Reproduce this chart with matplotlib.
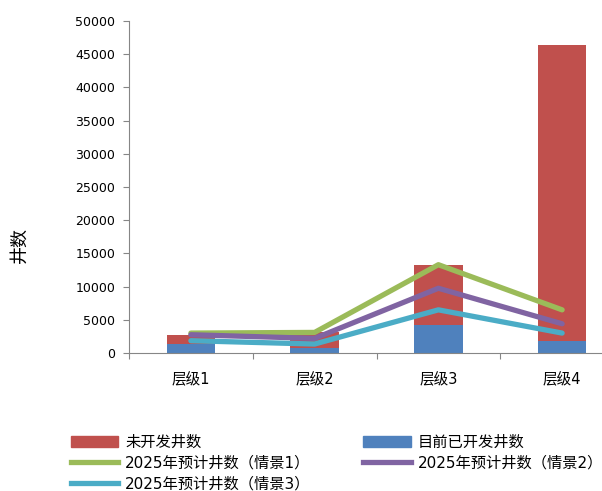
import numpy as np
import matplotlib
matplotlib.use("Agg")
from matplotlib import pyplot as plt
from matplotlib.patches import Patch
from matplotlib.lines import Line2D

plt.rcParams["font.family"] = ["DejaVu Sans", "Noto Sans CJK SC"]

levels = ["层级1", "层级2", "层级3", "层级4"]
developed = [1300, 800, 4200, 1850]          # 目前已开发井数
undeveloped = [1400, 2400, 9050, 44550]      # 未开发井数 (stacked on top)
case1 = [3000, 3100, 13300, 6500]
case2 = [2750, 2200, 9750, 4400]
case3 = [1850, 1350, 6500, 3000]

red = "#C0504D"
blue = "#4F81BD"
green = "#9BBB59"
purple = "#8064A2"
cyan = "#4BACC6"

fig = plt.figure(figsize=(6.02, 4.91), dpi=100)
ax = fig.add_axes([129 / 602, 1 - 353 / 491, 495 / 602, 332 / 491])

x = np.arange(len(levels))
w = 0.39
ax.bar(x, developed, w, color=blue, zorder=2)
ax.bar(x, undeveloped, w, bottom=developed, color=red, zorder=2)

lw = 3.8
ax.plot(x, case1, color=green, lw=lw, solid_capstyle="round", zorder=3)
ax.plot(x, case2, color=purple, lw=lw, solid_capstyle="round", zorder=4)
ax.plot(x, case3, color=cyan, lw=lw, solid_capstyle="round", zorder=5)

ax.set_xlim(-0.5, len(levels) - 0.5)
ax.set_ylim(0, 50000)
ax.set_yticks(np.arange(0, 50001, 5000))
ax.set_xticks(np.arange(-0.5, len(levels), 1.0))
ax.set_xticklabels([])
ax.set_xticks(x, minor=True)
ax.set_xticklabels(levels, minor=True)
ax.tick_params(axis="x", which="major", length=4, color="#868686", direction="out")
ax.tick_params(axis="x", which="minor", length=0, pad=14, labelsize=10.5)
ax.tick_params(axis="y", length=4, color="#868686", labelsize=9, pad=6)

for s in ["top", "right"]:
    ax.spines[s].set_visible(False)
for s in ["left", "bottom"]:
    ax.spines[s].set_color("#868686")

fig.text(20 / 602, 1 - 245 / 491, "井数", rotation=90, fontsize=13,
         ha="center", va="center")

handles = [
    Patch(color=red), Line2D([], [], color=green, lw=lw),
    Line2D([], [], color=cyan, lw=lw),
    Patch(color=blue), Line2D([], [], color=purple, lw=lw),
]
labels = ["未开发井数", "2025年预计井数（情景1）", "2025年预计井数（情景3）",
          "目前已开发井数", "2025年预计井数（情景2）"]
fig.legend(handles, labels, ncol=2, loc="upper left",
           bbox_to_anchor=(71 / 602, 1 - 435 / 491), frameon=False,
           fontsize=11, handlelength=3.1, handleheight=0.75,
           handletextpad=0.45, labelspacing=0.37, columnspacing=3.45,
           borderpad=0, borderaxespad=0)

fig.savefig("out.png", dpi=100)
